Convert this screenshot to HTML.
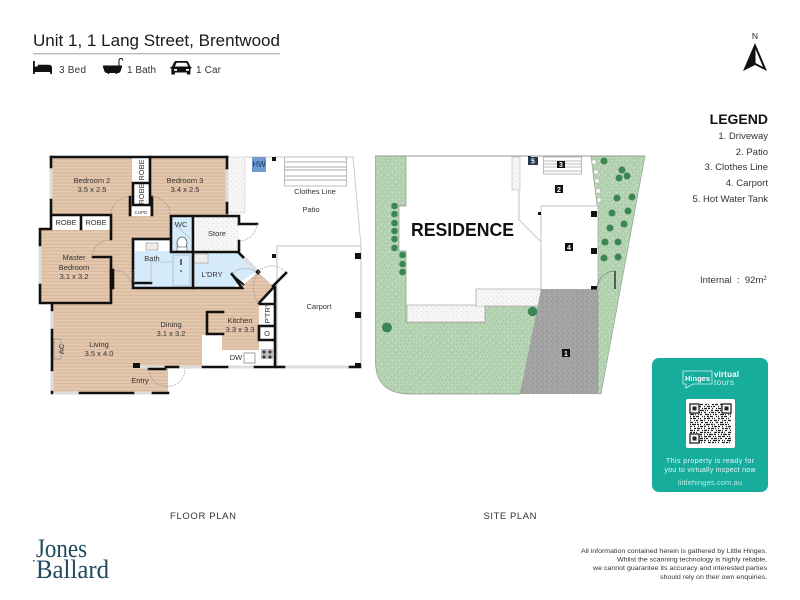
<!DOCTYPE html>
<html><head><meta charset="utf-8"><style>
html,body{margin:0;padding:0;background:#fff}
svg{display:block}
text{font-family:"Liberation Sans",sans-serif;fill:#222}
.r{font-size:7.5px;text-anchor:middle;fill:#333}
</style></head><body>
<svg width="800" height="600" viewBox="0 0 800 600" xmlns="http://www.w3.org/2000/svg">
<defs>
<pattern id="wood" width="4" height="3.4" patternUnits="userSpaceOnUse"><rect width="4" height="3.4" fill="#e4c8ae"/><rect y="2.3" width="4" height="1.1" fill="#d6b79c"/></pattern>
<pattern id="grn" width="7" height="7" patternUnits="userSpaceOnUse"><rect width="7" height="7" fill="#b6d4b3"/><path d="M1 1h1v1H1zM4 2h1v1H4zM2 4h1v1H2zM6 5h1v1H6zM5 0h1v1H5z" fill="#9cc09a"/><path d="M3 0h1v1H3zM0 3h1v1H0zM4 6h1v1H4z" fill="#c8e0c5"/></pattern>
<pattern id="grv" width="5" height="5" patternUnits="userSpaceOnUse"><rect width="5" height="5" fill="#f6f6f6"/><path d="M1 1h1v1H1zM3 3h1v1H3z" fill="#dcdcdc"/></pattern>
<pattern id="dr" width="5" height="5" patternUnits="userSpaceOnUse"><rect width="5" height="5" fill="#a3a3a3"/><path d="M1 1h1v1H1zM3 3h1v1H3z" fill="#929292"/><path d="M4 0h1v1H4zM0 3h1v1H0z" fill="#b0b0b0"/></pattern>
</defs>

<!-- header -->
<text x="33" y="46" font-size="17" textLength="247" lengthAdjust="spacingAndGlyphs" style="fill:#1a1a1a">Unit 1, 1 Lang Street, Brentwood</text>
<rect x="33" y="53" width="247" height="1.4" fill="#bbb"/>
<path d="M33 61h1.800v5.500h3v-1.800h11q3 0 3.200 3V74h-1.800v-2H34.800v2H33z" fill="#111"/>
<path d="M103 65.500h19v1.500l-1.500 4.500q-.8 1.500-2.500 1.500h-1l.5 1h-1.500l-.5-1h-6l-.5 1h-1.500l.5-1h-1q-1.700 0-2.500-1.500L103 67z" fill="#111"/>
<path d="M119 65.500v-5q0-2 1.900-2t1.900 2" fill="none" stroke="#111" stroke-width="1"/>
<path d="M172 66.500l2.200-4.500q.5-1 1.500-1h11q1 0 1.500 1l2.200 4.500 1 .5v1.500h-1v6h-3.500v-2h-12v2h-3.500v-6h-1v-1.500zM174.800 66.500h13.400l-1.800-3.800h-9.800zM174 69h3v1.800h-3zM186 69h3v1.800h-3z" fill="#111" fill-rule="evenodd"/>
<text x="59" y="73" font-size="10" textLength="27" style="fill:#333">3 Bed</text>
<text x="127" y="73" font-size="10" textLength="29" style="fill:#333">1 Bath</text>
<text x="196" y="73" font-size="10" textLength="25" style="fill:#333">1 Car</text>

<!-- north -->
<text x="755" y="39" font-size="8.5" text-anchor="middle" style="fill:#222">N</text>
<path d="M755 43L743 71L755 65L767 71Z" fill="#111"/><path d="M755.500 49L755.500 63L763 67Z" fill="#fff"/>

<!-- legend -->
<g text-anchor="end">
<text x="768" y="124" font-size="14" font-weight="bold" style="fill:#111">LEGEND</text>
<text x="768" y="139" font-size="9.500" style="fill:#333">1. Driveway</text>
<text x="768" y="155" font-size="9.500" style="fill:#333">2. Patio</text>
<text x="768" y="170" font-size="9.500" style="fill:#333">3. Clothes Line</text>
<text x="768" y="186" font-size="9.500" style="fill:#333">4. Carport</text>
<text x="768" y="202" font-size="9.500" style="fill:#333">5. Hot Water Tank</text>
</g>
<text x="700" y="283" font-size="9.500" style="fill:#333">Internal &#160;:&#160; 92m<tspan font-size="6" dy="-3">2</tspan></text>

<!-- FLOOR PLAN -->
<rect x="228" y="157" width="17" height="56" fill="url(#grv)" stroke="#ccc" stroke-width=".6"/>
<path d="M245 157H353L361 246V366H276" fill="none" stroke="#ccc" stroke-width="1"/>
<rect x="277" y="246" width="84" height="120" fill="#fff" stroke="#ccc" stroke-width="1.200"/>
<path d="M52 158H227V215H171V239H133V288H240L258 272L273 286L259 303V350H222V335H202V366H168V393H53V304H41V230H52Z" fill="url(#wood)"/>
<path d="M134 240H192V288H134Z" fill="#d6ebfa"/>
<path d="M193 253H240L257 271L232 288H193Z" fill="#d6ebfa"/>
<rect x="172" y="217" width="20" height="35" fill="#d6ebfa"/>
<rect x="172" y="254" width="19" height="33" fill="#bdd8ea"/><rect x="174" y="256" width="15" height="29" fill="#d6ebfa"/>
<rect x="196" y="217" width="43" height="35" fill="url(#grv)"/>
<!-- white boxes -->
<rect x="52" y="216" width="59" height="14" fill="#fff"/>
<rect x="132" y="158" width="18" height="47" fill="#fff"/>
<rect x="132" y="205" width="18" height="11" fill="#fff"/>
<rect x="259" y="303" width="15" height="47" fill="#fff"/>
<rect x="135" y="241" width="35" height="10" fill="#fff"/>
<rect x="146" y="243" width="12" height="7" fill="#eee" stroke="#888" stroke-width=".6"/>
<rect x="194" y="254" width="14" height="9" fill="#eee" stroke="#999" stroke-width=".6"/>
<ellipse cx="182" cy="243" rx="5" ry="6" fill="#fff" stroke="#555" stroke-width=".8"/>
<rect x="177" y="247" width="10" height="4" fill="#fff" stroke="#555" stroke-width=".6"/>
<rect x="180" y="259" width="2" height="6" fill="#667"/><circle cx="181" cy="271" r="1" fill="#667"/>
<rect x="261" y="349" width="12" height="10" fill="#bbb"/><circle cx="264" cy="352" r="1.500" fill="#333"/><circle cx="270" cy="352" r="1.500" fill="#333"/><circle cx="264" cy="357" r="1.500" fill="#333"/><circle cx="270" cy="357" r="1.500" fill="#333"/>
<rect x="244" y="353" width="11" height="10" fill="#fff" stroke="#888" stroke-width=".8"/>
<!-- windows -->
<g fill="none" stroke="#ddd" stroke-width="3">
<path d="M51 167V200M40 245V285M52 310V330M52 370V392M55 393H80M133 393H153M140 367H165M178 367H202M227 367H255M281 367H350M227 170V203"/>
<path d="M243 257L258 272" stroke-width="4"/>
</g>
<!-- walls -->
<g fill="none" stroke="#111" stroke-width="2.600" stroke-linecap="square">
<path d="M51 157H227"/>
<path d="M51 157V167M51 200V215H111V239"/>
<path d="M51 217V229H40V245M40 285V303H111V257H93"/>
<path d="M81 216V229M227 157V168M227 203V213"/>
<path d="M150 157V183H133V205H150V183"/>
<path d="M130 197V215M152 197V215"/>
<path d="M171 216H239V224M171 216V252H193M193 216V288M133 239H171M133 240V288H192"/>
<path d="M239 241V252H193M239 224H257M193 288H242L232 274M239 253L243 257"/>
<path d="M52 304V310M52 330V370M52 392V393M80 393H133M153 393H168M166 367H178M203 367H227M255 367H284M350 367H360"/>
<path d="M275 287V367M260 304H274M260 326H274M260 340H274M259 326V340"/>
<path d="M223 312H207V334H223"/>
<path d="M259 303L273 288M273 286L286 273"/>
<path d="M149 369H165M135 283H151M113 270V288M111 270V288"/>
</g>
<path d="M231 274L244 285" stroke="#111" stroke-width="2"/>
<rect x="133" y="363" width="7" height="5" fill="#111"/>
<rect x="272" y="157" width="4" height="4" fill="#111"/><rect x="272" y="254" width="4" height="4" fill="#111"/>
<rect x="355" y="253" width="6" height="6" fill="#111"/><rect x="355" y="312" width="6" height="6" fill="#111"/><rect x="355" y="363" width="6" height="4" fill="#111"/>
<rect x="256" y="270" width="4" height="4" fill="#111" transform="rotate(45 258 272)"/>
<rect x="252" y="157" width="14" height="15" fill="#6f9bcf"/>
<text x="259" y="167" font-size="8" text-anchor="middle" style="fill:#1c3a66">HW</text>
<!-- clothes line -->
<g stroke="#bbb" fill="none"><rect x="284.500" y="157" width="62" height="29"/><path d="M284 162h62M284 167h62M284 170h62M284 176h62M284 180h62" stroke-width="1.200"/></g>
<!-- door arcs -->
<g fill="none" stroke="#888" stroke-width=".6" stroke-dasharray="1.500 1">
<path d="M129 197A18 18 0 0 0 111 215M152 197A18 18 0 0 1 170 215M92 257A18 18 0 0 1 110 240M114 270A18 18 0 0 1 132 288M257 224A18 18 0 0 1 239 241"/>
<path d="M149 369A17 17 0 0 0 165 386M165 386A17 17 0 0 0 185 368M135 283A14 14 0 0 1 135 268M172 222L190 238M232 274A18 18 0 0 1 256 272M258 272A18 18 0 0 1 285 272M259 303A24 24 0 0 1 259 272M151 283V262H172"/>
</g>
<!-- floor labels -->
<text class="r" x="92" y="183">Bedroom 2</text><text class="r" x="92" y="192">3.5 x 2.5</text>
<text class="r" x="185" y="183">Bedroom 3</text><text class="r" x="185" y="192">3.4 x 2.5</text>
<text class="r" x="74" y="260">Master</text><text class="r" x="74" y="270">Bedroom</text><text class="r" x="74" y="279">3.1 x 3.2</text>
<text class="r" x="66" y="225">ROBE</text><text class="r" x="96" y="225">ROBE</text>
<text class="r" transform="translate(141,170) rotate(-90)" y="3">ROBE</text>
<text class="r" transform="translate(141,194) rotate(-90)" y="3">ROBE</text>
<text x="141" y="214" font-size="4.500" text-anchor="middle" style="fill:#333">CUPD</text>
<text x="181" y="227" font-size="7.500" text-anchor="middle" style="fill:#333">WC</text>
<text class="r" x="152" y="261">Bath</text>
<text class="r" x="217" y="236">Store</text>
<text class="r" x="212" y="277">L'DRY</text>
<text class="r" x="171" y="327">Dining</text><text class="r" x="171" y="336">3.1 x 3.2</text>
<text class="r" x="99" y="347">Living</text><text class="r" x="99" y="356">3.5 x 4.0</text>
<text class="r" x="140" y="383">Entry</text>
<text class="r" x="240" y="323">Kitchen</text><text class="r" x="240" y="332">3.3 x 3.3</text>
<text class="r" x="236" y="360">DW</text>
<text class="r" x="319" y="309">Carport</text>
<text class="r" x="315" y="194">Clothes Line</text>
<text class="r" x="311" y="212">Patio</text>
<text class="r" transform="translate(267,313) rotate(-90)" y="3">P'TRY</text>
<text class="r" x="267" y="336">O</text>
<rect x="54" y="339" width="7" height="20" fill="none" stroke="#888" stroke-width=".6"/>
<text class="r" transform="translate(61,349) rotate(-90)" y="3">AC</text>

<!-- SITE PLAN -->
<path d="M375.500 156H406V206H399V251H406V322H485V305H541L520 394H410Q375 394 375.500 360Z" fill="url(#grn)" stroke="#8a9a8a" stroke-width=".7"/>
<rect x="407" y="305" width="78" height="17" fill="url(#grv)" stroke="#999" stroke-width=".6"/>
<rect x="476" y="289" width="65" height="17" fill="url(#grv)" stroke="#999" stroke-width=".6"/>
<rect x="477" y="300" width="7" height="6" fill="url(#grv)"/>
<path d="M541 289H598V394H520Z" fill="url(#dr)"/>
<path d="M591 156H645L601 394H598V206L597 205Z" fill="url(#grn)" stroke="#8a9a8a" stroke-width=".6"/>
<path d="M375 156H645" stroke="#999" stroke-width="1"/>
<rect x="512" y="157" width="8" height="33" fill="url(#grv)" stroke="#bbb" stroke-width=".6"/>
<path d="M519 190V220L541 242V289M541 206H597M541 206V289" fill="none" stroke="#ccc" stroke-width="1.200"/>
<g stroke="#bbb" fill="none"><rect x="543.500" y="157" width="38" height="17"/><path d="M544 161h38M544 164h38M544 167h38M544 171h38"/></g>
<rect x="528" y="156" width="2.500" height="2.500" fill="#111"/><rect x="538" y="212" width="3" height="3" fill="#111"/>
<rect x="591" y="211" width="6" height="6" fill="#111"/><rect x="591" y="248" width="6" height="6" fill="#111"/><rect x="591" y="286" width="6" height="3.500" fill="#111"/>
<g fill="#fff" stroke="#aaa" stroke-width=".5"><rect x="592" y="160" width="4" height="4"/><rect x="594" y="170" width="4" height="4"/><rect x="595" y="179" width="4" height="4"/><rect x="596" y="189" width="4" height="4"/><rect x="597" y="198" width="4" height="4"/></g>
<g fill="#3c8653">
<circle cx="394.500" cy="206" r="3.300"/><circle cx="394.500" cy="214" r="3.300"/><circle cx="394.500" cy="223" r="3.300"/><circle cx="394.500" cy="231" r="3.300"/><circle cx="394.500" cy="239" r="3.300"/><circle cx="394.500" cy="248" r="3.300"/>
<circle cx="402.500" cy="255" r="3.300"/><circle cx="402.500" cy="264" r="3.300"/><circle cx="402.500" cy="272" r="3.300"/>
<circle cx="387" cy="327.500" r="5"/><circle cx="532.500" cy="311.500" r="4.800"/>
<circle cx="604" cy="161" r="3.500"/><circle cx="622" cy="170" r="3.500"/><circle cx="619" cy="178" r="3.500"/><circle cx="627" cy="176" r="3.500"/>
<circle cx="617" cy="198" r="3.500"/><circle cx="632" cy="197" r="3.500"/><circle cx="612" cy="213" r="3.500"/><circle cx="628" cy="211" r="3.500"/>
<circle cx="610" cy="228" r="3.500"/><circle cx="624" cy="224" r="3.500"/><circle cx="605" cy="242" r="3.500"/><circle cx="618" cy="242" r="3.500"/>
<circle cx="604" cy="258" r="3.500"/><circle cx="618" cy="257" r="3.500"/>
</g>
<path d="M615 271V289" stroke="#111" stroke-width="1.200"/><path d="M597 288A18 18 0 0 1 615 271" fill="none" stroke="#555" stroke-width=".5"/>
<text x="411" y="236" font-size="18" font-weight="bold" textLength="103" lengthAdjust="spacingAndGlyphs" style="fill:#111">RESIDENCE</text>
<g font-size="7" font-weight="bold" text-anchor="middle">
<rect x="528" y="157" width="10" height="8" fill="#24364d"/><text x="533" y="163.500" style="fill:#fff">5</text>
<rect x="557" y="161" width="8" height="7" fill="#111"/><text x="561" y="167" style="fill:#fff">3</text>
<rect x="555" y="185" width="8" height="8" fill="#111"/><text x="559" y="192" style="fill:#fff">2</text>
<rect x="565" y="243" width="8" height="8" fill="#111"/><text x="569" y="250" style="fill:#fff">4</text>
<rect x="562" y="349" width="8" height="8" fill="#111"/><text x="566" y="356" style="fill:#fff">1</text>
</g>

<!-- QR panel -->
<rect x="652" y="358" width="116" height="134" rx="7" fill="#17ad9d"/>
<path d="M683 371H712V384H693L686 388V384H683Z" fill="none" stroke="#d7f2ee" stroke-width=".8"/>
<text x="697.500" y="381" font-size="7.500" font-weight="bold" text-anchor="middle" style="fill:#fff">Hinges</text>
<text x="714" y="377" font-size="8" font-weight="bold" textLength="25" style="fill:#fff">virtual</text>
<text x="714" y="385" font-size="8" textLength="20" style="fill:#d7f2ee">tours</text>
<rect x="686" y="399" width="49" height="49" rx="2" fill="#fff"/>
<g fill="none" stroke="#222" stroke-width="1.250">
<path d="M690 404.500h41" stroke-dasharray="2 1 1 3 2 1 3 2"/>
<path d="M690 406.500h41" stroke-dasharray="1 2 3 1 1 1 2 3"/>
<path d="M690 408.500h41" stroke-dasharray="3 1 2 2 1 3 1 1"/>
<path d="M690 410.500h41" stroke-dasharray="1 1 1 3 2 2 4 1"/>
<path d="M690 412.500h41" stroke-dasharray="2 3 1 1 3 1 1 2"/>
<path d="M690 414.500h41" stroke-dasharray="4 1 1 2 1 1 2 3"/>
<path d="M690 416.500h41" stroke-dasharray="1 2 2 1 3 3 1 1"/>
<path d="M690 418.500h41" stroke-dasharray="2 1 3 2 1 1 1 3"/>
<path d="M690 420.500h41" stroke-dasharray="1 3 1 1 2 2 3 1"/>
<path d="M690 422.500h41" stroke-dasharray="3 2 1 1 1 3 2 2"/>
<path d="M690 424.500h41" stroke-dasharray="1 1 4 1 2 1 1 3"/>
<path d="M690 426.500h41" stroke-dasharray="2 2 1 3 1 1 3 1"/>
<path d="M690 428.500h41" stroke-dasharray="1 3 2 1 3 1 1 2"/>
<path d="M690 430.500h41" stroke-dasharray="3 1 1 2 2 3 1 1"/>
<path d="M690 432.500h41" stroke-dasharray="2 1 2 1 1 3 3 1"/>
<path d="M690 434.500h41" stroke-dasharray="1 2 1 1 4 1 2 2"/>
<path d="M690 436.500h41" stroke-dasharray="3 1 3 2 1 1 1 2"/>
<path d="M690 438.500h41" stroke-dasharray="1 1 2 3 2 1 3 1"/>
<path d="M690 440.500h41" stroke-dasharray="2 2 1 1 1 2 4 1"/>
<path d="M690 442.500h41" stroke-dasharray="1 3 3 1 2 1 1 2"/>
</g>
<g fill="#fff" stroke="#222" stroke-width="1.300">
<rect x="690" y="404" width="9" height="9"/><rect x="722" y="404" width="9" height="9"/><rect x="690" y="434" width="9" height="9"/>
</g>
<g fill="#222"><rect x="692.500" y="406.500" width="4" height="4"/><rect x="724.500" y="406.500" width="4" height="4"/><rect x="692.500" y="436.500" width="4" height="4"/></g>
<g text-anchor="middle">
<text x="710" y="463" font-size="7" textLength="88" style="fill:#e6f7f4">This property is ready for</text>
<text x="710" y="472" font-size="7" textLength="91" style="fill:#e6f7f4">you to virtually inspect now</text>
<text x="710" y="485" font-size="7.500" textLength="64" style="fill:#bcebe4">littlehinges.com.au</text>
</g>

<!-- captions -->
<text x="203" y="519" font-size="9.500" text-anchor="middle" textLength="66" style="fill:#333">FLOOR PLAN</text>
<text x="510" y="519" font-size="9.500" text-anchor="middle" textLength="53" style="fill:#333">SITE PLAN</text>

<!-- logo -->
<text x="36" y="557" font-size="26" textLength="51" lengthAdjust="spacingAndGlyphs" style="font-family:'Liberation Serif',serif;fill:#1f4a5e">Jones</text>
<text x="36" y="578" font-size="26" textLength="73" lengthAdjust="spacingAndGlyphs" style="font-family:'Liberation Serif',serif;fill:#1f4a5e">Ballard</text>
<rect x="33" y="560" width="1.500" height="1.500" fill="#1f4a5e"/>

<!-- disclaimer -->
<g font-size="6.500" text-anchor="end">
<text x="767" y="553" textLength="186" lengthAdjust="spacingAndGlyphs" style="fill:#333">All information contained herein is gathered by Little Hinges.</text>
<text x="767" y="561.500" textLength="150" lengthAdjust="spacingAndGlyphs" style="fill:#333">Whilst the scanning technology is highly reliable,</text>
<text x="767" y="570" textLength="174" lengthAdjust="spacingAndGlyphs" style="fill:#333">we cannot guarantee its accuracy and interested parties</text>
<text x="767" y="579" textLength="107" lengthAdjust="spacingAndGlyphs" style="fill:#333">should rely on their own enquiries.</text>
</g>
</svg>
</body></html>
